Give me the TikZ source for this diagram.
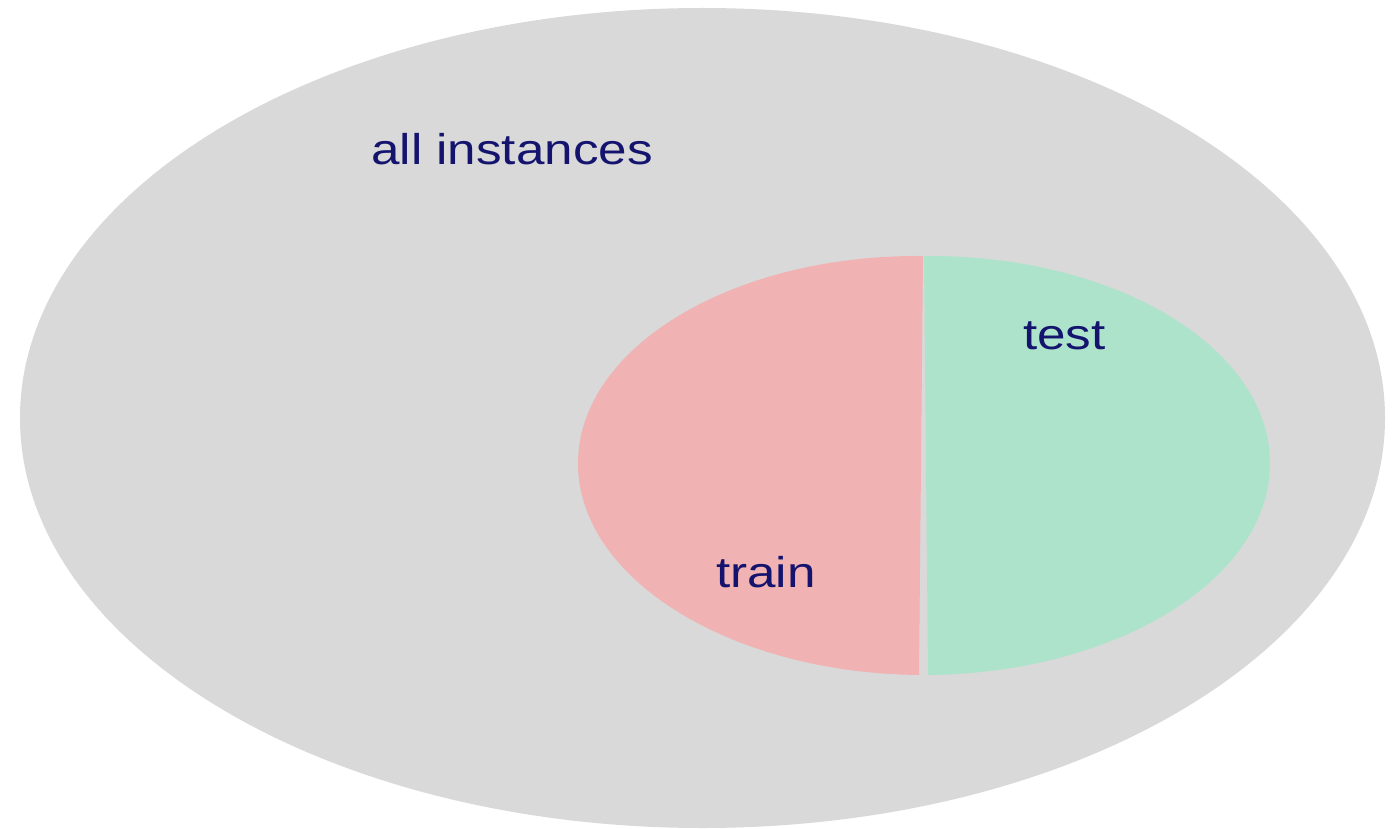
\documentclass[tikz,border=0pt]{standalone}
\usepackage{fontspec}
\setmainfont{Liberation Sans}
\definecolor{allgray}{HTML}{D9D9D9}
\definecolor{trainred}{HTML}{F0B2B2}
\definecolor{testgreen}{HTML}{ADE3CB}
\definecolor{labelblue}{HTML}{14146E}
\begin{document}
\begin{tikzpicture}[x=1pt,y=-1pt,
  lbl/.style={text=labelblue,inner sep=0pt,font=\fontsize{43}{50}\selectfont,xscale=1.19}]
\useasboundingbox (0,0) rectangle (1397,829);
\fill[white] (0,0) rectangle (1397,829);
% all instances
\fill[allgray] (702.5,418) ellipse [x radius=682.5, y radius=410];
% train half
\begin{scope}[rotate around={-0.55:(921,465.5)}]
\fill[trainred] (921,256) arc[start angle=90, end angle=270, x radius=343, y radius=-209.5] -- cycle;
\end{scope}
% test half
\begin{scope}[rotate around={0.55:(926,465.5)}]
\fill[testgreen] (926,256) arc[start angle=90, end angle=-90, x radius=344, y radius=-209.5] -- cycle;
\end{scope}
\node[lbl,anchor=base west] (all) at (371,165) {all instances};
\node[lbl,anchor=base west] (train) at (716,587) {train};
\node[lbl,anchor=base west] (test) at (1023,349) {test};
\end{tikzpicture}
\end{document}
